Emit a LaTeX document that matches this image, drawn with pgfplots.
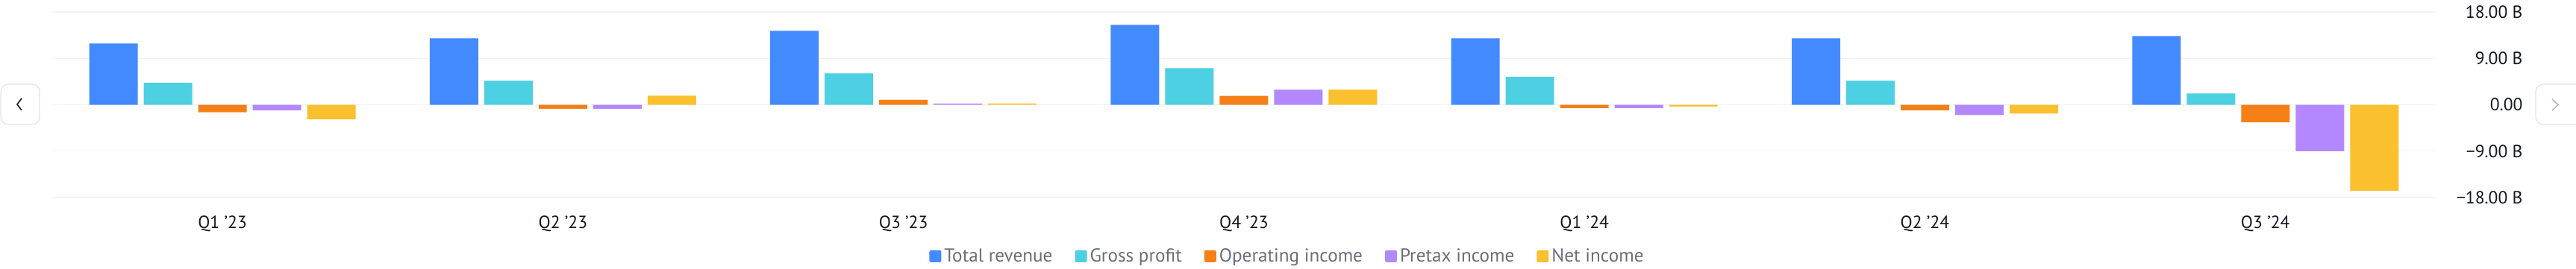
\documentclass[border=0pt]{standalone}
\usepackage{pgfplots}
\pgfplotsset{compat=1.18}
\usepackage{pgfplotstable}
\usepackage{fontspec}
\setmainfont{PT Sans}
\definecolor{crev}{HTML}{448AFF}
\definecolor{cgp}{HTML}{4DD0E1}
\definecolor{cop}{HTML}{F57F17}
\definecolor{cpre}{HTML}{B388FF}
\definecolor{cnet}{HTML}{FBC02D}
\definecolor{gridc}{HTML}{F0F3FA}
\definecolor{txt}{HTML}{131722}
\definecolor{legtxt}{HTML}{6A6D78}
\definecolor{btn}{HTML}{E0E3EB}
\definecolor{chev}{HTML}{B2B5BE}

\pgfplotstableread{
x rev gp op pre net
0 11.88 4.23 -1.45 -1.10 -2.85
1 12.90 4.66 -0.80 -0.80 1.75
2 14.34 6.10 0.97 0.20 0.25
3 15.50 7.10 1.73 2.90 2.90
4 12.90 5.40 -0.68 -0.68 -0.35
5 12.90 4.66 -1.10 -2.00 -1.70
6 13.33 2.20 -3.40 -9.00 -16.70
}\datatable

\begin{document}
\begin{tikzpicture}
\path[use as bounding box] (0,0) rectangle (1726pt,180pt);
\begin{axis}[
  at={(35pt,47.5pt)}, anchor=south west,
  scale only axis, width=1597pt, height=124.5pt,
  ybar=4pt, bar width=32.5pt,
  xmin=-0.5, xmax=6.5, ymin=-18, ymax=18,
  xtick={0,1,2,3,4,5,6},
  xticklabels={Q1 '23,Q2 '23,Q3 '23,Q4 '23,Q1 '24,Q2 '24,Q3 '24},
  ytick={-18,-9,0,9,18},
  yticklabels={−18.00 B,−9.00 B,0.00,9.00 B,18.00 B},
  yticklabel pos=right,
  ymajorgrids, grid style={draw=gridc, line width=0.6pt},
  axis line style={draw=none},
  tick style={draw=none}, major tick length=0pt,
  tick label style={font=\fontsize{11.8}{13}\selectfont, text=txt},
  yticklabel style={anchor=east, inner sep=0pt, xshift=58.5pt},
  xticklabel style={anchor=base, inner sep=0pt, yshift=-20.75pt},
  legend columns=-1,
  legend style={draw=none, fill=none, at={(0.5185,-0.317)}, anchor=center,
    font=\fontsize{12.6}{14}\selectfont, text=legtxt,
    /tikz/every even column/.append style={column sep=13pt}},
  legend image code/.code={\fill[#1,draw=none,rounded corners=1pt] (0pt,-4pt) rectangle (8pt,4pt);},
]
\addplot[fill=crev, draw=none] table[x=x,y=rev]{\datatable};
\addlegendentry{Total revenue}
\addplot[fill=cgp, draw=none] table[x=x,y=gp]{\datatable};
\addlegendentry{Gross profit}
\addplot[fill=cop, draw=none] table[x=x,y=op]{\datatable};
\addlegendentry{Operating income}
\addplot[fill=cpre, draw=none] table[x=x,y=pre]{\datatable};
\addlegendentry{Pretax income}
\addplot[fill=cnet, draw=none] table[x=x,y=net]{\datatable};
\addlegendentry{Net income}
\end{axis}
% navigation buttons
\draw[btn, line width=0.6pt, rounded corners=5pt] (0.5pt,96.5pt) rectangle (26.5pt,123.5pt);
\draw[txt, line width=0.8pt] (14.5pt,114pt) -- (11.5pt,110pt) -- (14.5pt,106pt);
\draw[btn, line width=0.6pt, rounded corners=5pt] (1699pt,96.5pt) rectangle (1732pt,123.5pt);
\draw[chev, line width=0.8pt] (1710pt,113.5pt) -- (1714pt,109.75pt) -- (1710pt,106pt);
\end{tikzpicture}
\end{document}
